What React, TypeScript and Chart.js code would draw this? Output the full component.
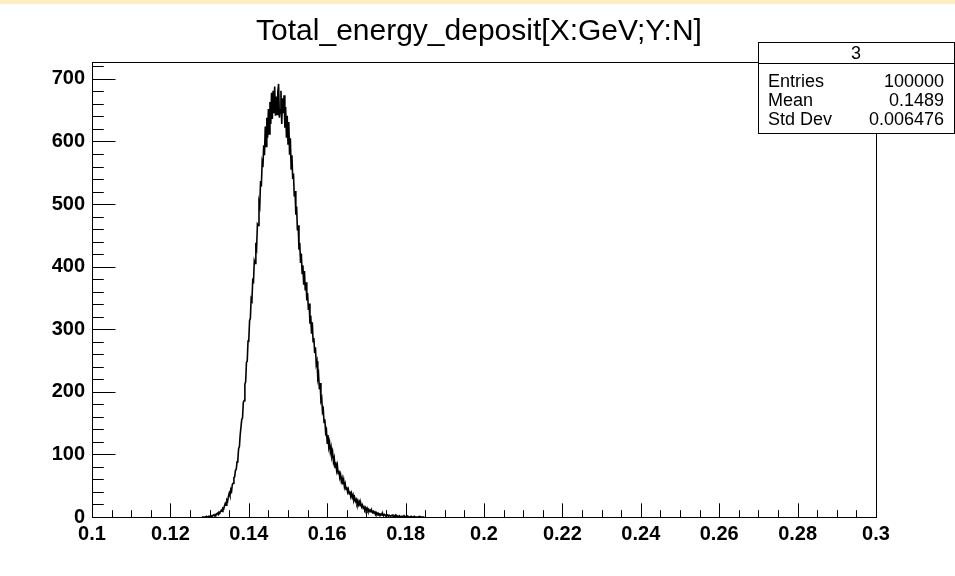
import React, { useEffect, useRef } from "react";
import { Chart, registerables } from "chart.js";

Chart.register(...registerables);

const TITLE = "Total_energy_deposit[X:GeV;Y:N]";
const X_MIN = 0.1;
const X_MAX = 0.3;
const Y_MIN = 0;
const Y_MAX = 727;
const X_TICKS = [0.1, 0.12, 0.14, 0.16, 0.18, 0.2, 0.22, 0.24, 0.26, 0.28, 0.3];
const X_TICK_LABELS = ["0.1", "0.12", "0.14", "0.16", "0.18", "0.2", "0.22", "0.24", "0.26", "0.28", "0.3"];
const Y_TICKS = [0, 100, 200, 300, 400, 500, 600, 700];
const Y_TICK_LABELS = ["0", "100", "200", "300", "400", "500", "600", "700"];
const X_MINOR_STEP = 0.005;
const Y_MINOR_STEP = 20;

const BIN_START = 0.128;
const BIN_WIDTH = 0.0002;
const COUNTS = [
  0, 0, 0, 0, 0,
  0, 1, 0, 0, 1,
  1, 0, 2, 1, 2,
  3, 2, 4, 3, 5,
  6, 4, 8, 7, 9,
  11, 9, 14, 13, 18,
  22, 19, 27, 25, 33,
  38, 34, 44, 41, 52,
  54, 63, 64, 75, 76,
  88, 91, 109, 112, 131,
  131, 156, 158, 183, 186,
  212, 216, 247, 249, 281,
  283, 314, 317, 349, 346,
  378, 376, 409, 405, 438,
  431, 468, 466, 503, 497,
  537, 528, 566, 559, 594,
  578, 624, 592, 638, 606,
  652, 612, 663, 628, 678,
  636, 681, 645, 688, 641,
  672, 643, 679, 692, 638,
  651, 681, 628, 669, 645,
  674, 622, 655, 606, 641,
  596, 631, 579, 605, 556,
  578, 540, 549, 512, 521,
  483, 496, 458, 466, 427,
  438, 406, 421, 389, 402,
  371, 393, 362, 375, 346,
  358, 331, 341, 309, 322,
  293, 311, 280, 286, 262,
  271, 244, 249, 222, 228,
  204, 214, 186, 190, 168,
  172, 151, 156, 135, 139,
  118, 131, 112, 119, 104,
  111, 97, 102, 88, 94,
  79, 88, 75, 82, 69,
  74, 63, 68, 57, 62,
  52, 59, 48, 53, 44,
  48, 40, 44, 37, 41,
  33, 38, 31, 35, 27,
  31, 25, 28, 22, 26,
  20, 24, 18, 21, 16,
  19, 14, 16, 12, 15,
  11, 14, 10, 12, 9,
  11, 8, 10, 7, 9,
  6, 8, 5, 7, 4,
  6, 4, 5, 3, 5,
  3, 5, 2, 4, 3,
  2, 4, 3, 1, 3,
  3, 1, 2, 3, 1,
  2, 1, 3, 0, 2,
  1, 0, 2, 1, 0,
  1, 1, 0, 2, 0,
  0, 1, 0, 1, 0,
  0, 0, 1, 0, 0,
  0, 1, 0, 0, 0,
  0, 0, 0, 1, 0,
  0, 0, 0, 0, 0,
];

const STATS_NAME = "3";
const STATS_LABELS = ["Entries", "Mean", "Std Dev"];
const STATS_VALUES = ["100000", "0.1489", "0.006476"];

const FONT = '"Liberation Sans", Arial, Helvetica, sans-serif';
const W = 955;
const H = 576;

const decorPlugin = {
  id: "rootDecor",
  beforeDraw(chart: any) {
    const ctx = chart.ctx;
    ctx.save();
    ctx.fillStyle = "#ffffff";
    ctx.fillRect(0, 0, W, H);
    ctx.fillStyle = "#fdefc2";
    ctx.fillRect(0, 0, W, 4);
    ctx.restore();
  },
  afterDraw(chart: any) {
    const ctx = chart.ctx;
    const { left, right, top, bottom } = chart.chartArea;
    const xs = chart.scales.x;
    const ys = chart.scales.y;
    ctx.save();
    ctx.strokeStyle = "#000";
    ctx.lineWidth = 1;
    ctx.strokeRect(Math.round(left) + 0.5, Math.round(top) + 0.5, Math.round(right - left), Math.round(bottom - top));
    const xMajLen = (bottom - top) * 0.03;
    ctx.beginPath();
    const nx = Math.round((X_MAX - X_MIN) / X_MINOR_STEP);
    for (let i = 0; i <= nx; i++) {
      const v = X_MIN + i * X_MINOR_STEP;
      const px = Math.round(xs.getPixelForValue(v)) + 0.5;
      const major = i % 4 === 0;
      const len = major ? xMajLen : xMajLen / 2;
      ctx.moveTo(px, bottom);
      ctx.lineTo(px, bottom - len);
    }
    const yMajLen = (right - left) * 0.03;
    const ny = Math.floor((Y_MAX - Y_MIN) / Y_MINOR_STEP);
    for (let i = 0; i <= ny; i++) {
      const v = Y_MIN + i * Y_MINOR_STEP;
      const py = Math.round(ys.getPixelForValue(v)) + 0.5;
      const major = i % 5 === 0;
      const len = major ? yMajLen : yMajLen / 2;
      ctx.moveTo(left, py);
      ctx.lineTo(left + len, py);
    }
    ctx.stroke();

    ctx.fillStyle = "#000";
    ctx.font = `30px ${FONT}`;
    ctx.textAlign = "center";
    ctx.textBaseline = "middle";
    ctx.fillText(TITLE, 479, 32);

    const bx = 758.5, by = 42.5, bw = 196, bh = 91;
    ctx.fillStyle = "#fff";
    ctx.fillRect(bx, by, bw, bh);
    ctx.strokeRect(bx, by, bw, bh);
    ctx.beginPath();
    ctx.moveTo(bx, 63.5);
    ctx.lineTo(bx + bw, 63.5);
    ctx.stroke();
    ctx.fillStyle = "#000";
    ctx.font = `18px ${FONT}`;
    ctx.textAlign = "center";
    ctx.fillText(STATS_NAME, 856, 54);
    const rowY = [82, 101, 120];
    STATS_LABELS.forEach((lab, i) => {
      ctx.textAlign = "left";
      ctx.fillText(lab, 768, rowY[i]);
      ctx.textAlign = "right";
      ctx.fillText(STATS_VALUES[i], 944, rowY[i]);
    });
    ctx.restore();
  },
};

export default function App() {
  const ref = useRef<HTMLCanvasElement | null>(null);
  useEffect(() => {
    if (!ref.current) return;
    const points = COUNTS.map((c, i) => ({ x: BIN_START + i * BIN_WIDTH, y: c }));
    const chart = new Chart(ref.current, {
      type: "line",
      data: {
        datasets: [
          {
            data: points,
            borderColor: "#000",
            borderWidth: 1.6,
            pointRadius: 0,
            tension: 0,
            fill: false,
          },
        ],
      },
      options: {
        responsive: false,
        animation: false,
        devicePixelRatio: 1,
        layout: { padding: { top: 62, right: 79, left: 0, bottom: 0 } },
        plugins: { legend: { display: false }, title: { display: false }, tooltip: { enabled: false } },
        scales: {
          x: {
            type: "linear",
            min: X_MIN,
            max: X_MAX,
            afterBuildTicks: (s: any) => {
              s.ticks = X_TICKS.map((v) => ({ value: v }));
            },
            afterFit: (s: any) => {
              s.height = 59;
            },
            ticks: {
              autoSkip: false,
              maxRotation: 0,
              minRotation: 0,
              padding: 5,
              color: "#000",
              font: { family: FONT, size: 20, weight: "bold" },
              callback: (_v: any, i: number) => X_TICK_LABELS[i],
            },
            grid: { display: false, drawTicks: false },
            border: { display: false },
          },
          y: {
            type: "linear",
            min: Y_MIN,
            max: Y_MAX,
            afterBuildTicks: (s: any) => {
              s.ticks = Y_TICKS.map((v) => ({ value: v }));
            },
            afterFit: (s: any) => {
              s.width = 92;
            },
            ticks: {
              padding: 7,
              color: "#000",
              font: { family: FONT, size: 20, weight: "bold" },
              callback: (_v: any, i: number) => Y_TICK_LABELS[i],
            },
            grid: { display: false, drawTicks: false },
            border: { display: false },
          },
        },
      },
      plugins: [decorPlugin],
    });
    return () => chart.destroy();
  }, []);
  return (
    <div style={{ position: "fixed", left: 0, top: 0, width: W, height: H }}>
      <canvas ref={ref} width={W} height={H} style={{ display: "block", width: W, height: H }} />
    </div>
  );
}
